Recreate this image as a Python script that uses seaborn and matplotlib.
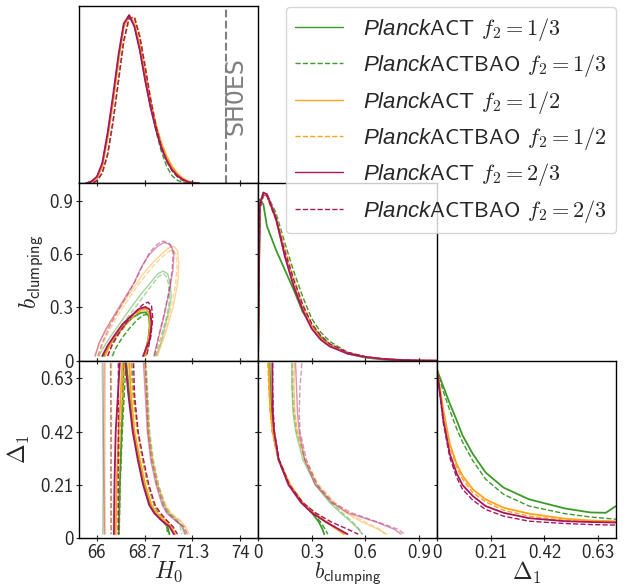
import matplotlib
matplotlib.use("Agg")
import matplotlib.pyplot as plt
import seaborn as sns

sns.set_style("ticks")
plt.rcParams['font.family'] = ['cmss10', 'DejaVu Sans']
plt.rcParams['mathtext.fontset'] = 'custom'
plt.rcParams['mathtext.rm'] = 'cmr10'
plt.rcParams['mathtext.it'] = 'cmmi10'
plt.rcParams['mathtext.sf'] = 'cmss10'
plt.rcParams['mathtext.bf'] = 'Liberation Sans:italic'  # used for the italic "Planck"
plt.rcParams['axes.unicode_minus'] = False

# series order: ACT 1/3, ACTBAO 1/3, ACT 1/2, ACTBAO 1/2, ACT 2/3, ACTBAO 2/3
labels = [r"$\mathbf{Planck}$ACT $f_2=1/3$", r"$\mathbf{Planck}$ACTBAO $f_2=1/3$",
          r"$\mathbf{Planck}$ACT $f_2=1/2$", r"$\mathbf{Planck}$ACTBAO $f_2=1/2$",
          r"$\mathbf{Planck}$ACT $f_2=2/3$", r"$\mathbf{Planck}$ACTBAO $f_2=2/3$"]
colors = ['#3c9a28', '#3c9a28', '#ffa31a', '#ffa31a', '#a8165f', '#a8165f']
styles = ['-', '--', '-', '--', '-', '--']
widths = [1.3, 1.0, 1.3, 1.0, 1.3, 1.0]

shoes_h0 = 73.2

# 1D posterior of H0
h0_grid = [65.4, 65.7, 66.0, 66.3, 66.6, 66.9, 67.2, 67.5, 67.8, 68.1, 68.4,
           68.7, 69.0, 69.3, 69.6, 69.9, 70.2, 70.5, 70.8, 71.1, 71.4, 71.7]
h0_pdf = [
    [0, 0.01, 0.035, 0.11, 0.29, 0.50, 0.74, 0.94, 1.0, 0.94, 0.80, 0.62, 0.46, 0.33, 0.22, 0.145, 0.09, 0.05, 0.025, 0.01, 0.003, 0],
    [0, 0, 0.015, 0.06, 0.17, 0.36, 0.60, 0.84, 0.98, 0.99, 0.87, 0.68, 0.48, 0.31, 0.19, 0.10, 0.045, 0.018, 0.005, 0, 0, 0],
    [0, 0.008, 0.03, 0.10, 0.27, 0.48, 0.72, 0.93, 1.0, 0.95, 0.82, 0.65, 0.49, 0.35, 0.24, 0.16, 0.10, 0.058, 0.03, 0.013, 0.004, 0],
    [0, 0, 0.015, 0.06, 0.17, 0.36, 0.60, 0.84, 0.98, 0.99, 0.88, 0.70, 0.51, 0.35, 0.23, 0.14, 0.08, 0.042, 0.02, 0.007, 0.002, 0],
    [0, 0.012, 0.04, 0.12, 0.30, 0.52, 0.76, 0.95, 1.0, 0.93, 0.79, 0.61, 0.45, 0.32, 0.21, 0.135, 0.08, 0.045, 0.022, 0.008, 0.002, 0],
    [0, 0, 0.016, 0.062, 0.175, 0.37, 0.61, 0.85, 0.985, 0.985, 0.87, 0.69, 0.50, 0.34, 0.22, 0.13, 0.075, 0.038, 0.017, 0.006, 0.001, 0],
]

# 1D posterior of b_clumping
b_grid = [0, 0.01, 0.03, 0.05, 0.1, 0.15, 0.2, 0.25, 0.3, 0.35, 0.4, 0.5, 0.6, 0.7, 0.8, 0.9, 1.0]
b_pdf = [
    [0, 0.96, 0.93, 0.80, 0.66, 0.54, 0.42, 0.29, 0.205, 0.14, 0.095, 0.042, 0.018, 0.007, 0.002, 0, 0],
    [0, 0.90, 0.98, 0.99, 0.88, 0.70, 0.53, 0.38, 0.25, 0.17, 0.115, 0.05, 0.022, 0.009, 0.003, 0, 0],
    [0, 0.92, 1.0, 0.98, 0.84, 0.63, 0.45, 0.31, 0.20, 0.13, 0.09, 0.045, 0.022, 0.01, 0.004, 0.001, 0],
    [0, 0.90, 0.99, 0.99, 0.86, 0.67, 0.49, 0.34, 0.22, 0.15, 0.10, 0.047, 0.022, 0.009, 0.003, 0, 0],
    [0, 0.93, 1.0, 0.99, 0.85, 0.62, 0.44, 0.30, 0.19, 0.125, 0.085, 0.042, 0.022, 0.01, 0.004, 0.001, 0],
    [0, 0.90, 0.99, 0.98, 0.84, 0.65, 0.48, 0.33, 0.22, 0.15, 0.10, 0.05, 0.024, 0.01, 0.004, 0.001, 0],
]

# 1D posterior of Delta_1
d_grid = [0, 0.025, 0.05, 0.077, 0.1, 0.14, 0.19, 0.26, 0.36, 0.5, 0.6, 0.66, 0.7]
d_pdf = [
    [1.0, 0.90, 0.80, 0.70, 0.61, 0.50, 0.39, 0.30, 0.23, 0.176, 0.152, 0.150, 0.19],
    [1.0, 0.87, 0.76, 0.65, 0.57, 0.46, 0.35, 0.26, 0.19, 0.145, 0.125, 0.117, 0.112],
    [1.0, 0.76, 0.56, 0.44, 0.37, 0.29, 0.23, 0.18, 0.145, 0.115, 0.104, 0.101, 0.099],
    [1.0, 0.74, 0.54, 0.42, 0.35, 0.27, 0.215, 0.165, 0.13, 0.105, 0.097, 0.095, 0.094],
    [1.0, 0.70, 0.50, 0.385, 0.315, 0.25, 0.19, 0.15, 0.118, 0.10, 0.095, 0.093, 0.092],
    [1.0, 0.68, 0.48, 0.36, 0.29, 0.225, 0.17, 0.13, 0.10, 0.086, 0.08, 0.078, 0.077],
]

# H0 - b_clumping contours (68% inner, 95% outer)
hb_in_h0 = [
    [66.40, 66.68, 67.05, 67.51, 67.98, 68.45, 68.72, 68.91, 68.95, 68.87, 68.63],
    [66.86, 67.05, 67.42, 67.80, 68.20, 68.55, 68.80, 68.95, 69.00, 68.92, 68.70],
    [66.45, 66.70, 67.05, 67.50, 67.95, 68.40, 68.72, 68.92, 68.98, 68.90, 68.66],
    [66.60, 66.85, 67.20, 67.65, 68.10, 68.55, 68.85, 69.02, 69.06, 68.98, 68.75],
    [66.30, 66.58, 66.96, 67.42, 67.89, 68.35, 68.72, 68.95, 69.06, 68.95, 68.58],
    [66.60, 66.85, 67.20, 67.65, 68.10, 68.55, 68.85, 69.05, 69.12, 69.02, 68.78],
]
hb_in_b = [
    [0.026, 0.082, 0.139, 0.195, 0.242, 0.270, 0.273, 0.25, 0.195, 0.12, 0.026],
    [0.026, 0.07, 0.13, 0.18, 0.225, 0.255, 0.262, 0.24, 0.19, 0.12, 0.026],
    [0.026, 0.085, 0.145, 0.205, 0.255, 0.285, 0.29, 0.27, 0.21, 0.13, 0.026],
    [0.026, 0.085, 0.145, 0.205, 0.255, 0.29, 0.298, 0.275, 0.21, 0.13, 0.026],
    [0.026, 0.082, 0.139, 0.204, 0.25, 0.292, 0.303, 0.288, 0.213, 0.12, 0.026],
    [0.026, 0.09, 0.15, 0.215, 0.27, 0.315, 0.33, 0.31, 0.24, 0.14, 0.026],
]
hb_out_h0 = [
    [66.12, 66.40, 66.86, 67.42, 67.98, 68.50, 69.00, 69.40, 69.70, 69.95, 70.10, 70.15, 70.00, 69.75, 69.55, 69.32],
    [66.30, 66.60, 67.05, 67.60, 68.15, 68.65, 69.10, 69.45, 69.72, 69.92, 70.02, 70.05, 69.90, 69.65, 69.45, 69.25],
    [65.93, 66.15, 66.50, 67.05, 67.60, 68.10, 68.60, 69.10, 69.60, 70.00, 70.31, 70.50, 70.58, 70.52, 70.25, 69.85, 69.38],
    [66.10, 66.35, 66.70, 67.20, 67.75, 68.25, 68.75, 69.20, 69.65, 70.00, 70.25, 70.42, 70.48, 70.40, 70.12, 69.75, 69.30],
    [65.89, 66.12, 66.49, 67.05, 67.61, 68.07, 68.45, 68.91, 69.38, 69.75, 70.12, 70.31, 70.25, 70.03, 69.75, 69.47, 69.19],
    [66.05, 66.30, 66.65, 67.15, 67.70, 68.15, 68.55, 68.95, 69.35, 69.70, 70.05, 70.25, 70.20, 70.00, 69.72, 69.45, 69.20],
]
hb_out_b = [
    [0.026, 0.08, 0.15, 0.23, 0.31, 0.38, 0.44, 0.49, 0.505, 0.49, 0.44, 0.36, 0.27, 0.17, 0.09, 0.026],
    [0.026, 0.08, 0.15, 0.23, 0.30, 0.37, 0.43, 0.475, 0.49, 0.47, 0.42, 0.34, 0.25, 0.16, 0.09, 0.026],
    [0.026, 0.10, 0.17, 0.26, 0.345, 0.42, 0.49, 0.55, 0.60, 0.635, 0.645, 0.62, 0.55, 0.44, 0.30, 0.16, 0.026],
    [0.026, 0.10, 0.17, 0.26, 0.345, 0.42, 0.485, 0.54, 0.585, 0.615, 0.625, 0.60, 0.53, 0.43, 0.29, 0.15, 0.026],
    [0.026, 0.10, 0.176, 0.27, 0.363, 0.438, 0.522, 0.597, 0.644, 0.667, 0.654, 0.607, 0.513, 0.382, 0.251, 0.139, 0.026],
    [0.026, 0.10, 0.18, 0.275, 0.37, 0.45, 0.535, 0.61, 0.655, 0.675, 0.66, 0.61, 0.51, 0.38, 0.25, 0.14, 0.026],
]

# H0 - Delta_1 contours: left and right edges
hd_left_d = [0.69, 0.42, 0.21, 0.015]
hd_in_left = [
    [67.50, 67.38, 67.28, 67.22], [67.62, 67.42, 67.30, 67.25],
    [67.42, 67.22, 67.10, 67.05], [67.55, 67.30, 67.20, 67.18],
    [67.28, 67.05, 66.98, 66.95], [67.20, 67.20, 67.19, 67.20],
]
hd_out_left = [
    [66.30, 66.33, 66.35, 66.33], [66.78, 66.80, 66.80, 66.82],
    [66.48, 66.46, 66.45, 66.48], [66.82, 66.82, 66.80, 66.80],
    [66.40, 66.38, 66.40, 66.42], [66.76, 66.78, 66.78, 66.78],
]
hd_right_d = [0.69, 0.57, 0.42, 0.31, 0.21, 0.13, 0.098, 0.07, 0.045, 0.015]
hd_in_right = [
    [67.65, 67.80, 68.05, 68.35, 68.65, 68.98, 69.25, 69.62, 69.95, 70.05],
    [67.95, 68.05, 68.30, 68.55, 68.85, 69.20, 69.45, 69.70, 69.90, 69.95],
    [67.80, 67.90, 68.10, 68.40, 68.70, 69.05, 69.35, 69.75, 70.15, 70.35],
    [67.90, 68.00, 68.25, 68.55, 68.85, 69.22, 69.50, 69.85, 70.20, 70.40],
    [67.60, 67.75, 68.00, 68.28, 68.58, 68.92, 69.20, 69.60, 70.05, 70.30],
    [68.05, 68.10, 68.30, 68.60, 68.90, 69.25, 69.55, 69.90, 70.25, 70.50],
]
hd_out_right = [
    [68.70, 68.80, 68.90, 69.10, 69.40, 69.75, 70.00, 70.50, 70.75, 70.90],
    [68.75, 68.85, 68.95, 69.15, 69.45, 69.80, 70.05, 70.45, 70.65, 70.75],
    [68.65, 68.75, 68.88, 69.08, 69.38, 69.80, 70.10, 70.60, 70.95, 71.15],
    [68.72, 68.80, 68.92, 69.12, 69.42, 69.85, 70.15, 70.65, 70.90, 71.05],
    [68.60, 68.70, 68.82, 69.00, 69.30, 69.65, 69.90, 70.35, 70.80, 70.95],
    [68.70, 68.78, 68.85, 69.05, 69.35, 69.70, 69.95, 70.40, 70.85, 71.05],
]

# b_clumping - Delta_1 contours
bd_d = [0.69, 0.6, 0.5, 0.42, 0.31, 0.21, 0.14, 0.1, 0.063, 0.035, 0.015]
bd_in_b = [
    [0.065, 0.068, 0.075, 0.085, 0.115, 0.175, 0.245, 0.30, 0.34, 0.36, 0.37],
    [0.058, 0.062, 0.07, 0.08, 0.112, 0.172, 0.245, 0.305, 0.35, 0.375, 0.39],
    [0.06, 0.063, 0.07, 0.082, 0.115, 0.18, 0.25, 0.31, 0.38, 0.44, 0.48],
    [0.055, 0.06, 0.068, 0.08, 0.113, 0.178, 0.25, 0.315, 0.39, 0.45, 0.49],
    [0.08, 0.08, 0.082, 0.09, 0.115, 0.17, 0.24, 0.30, 0.38, 0.45, 0.50],
    [0.082, 0.082, 0.085, 0.092, 0.118, 0.175, 0.25, 0.32, 0.41, 0.50, 0.56],
]
bd_out_b = [
    [0.19, 0.19, 0.195, 0.21, 0.25, 0.32, 0.40, 0.46, 0.52, 0.56, 0.585],
    [0.19, 0.19, 0.20, 0.215, 0.26, 0.33, 0.41, 0.47, 0.53, 0.565, 0.58],
    [0.205, 0.20, 0.205, 0.22, 0.26, 0.33, 0.42, 0.49, 0.58, 0.67, 0.72],
    [0.20, 0.20, 0.205, 0.22, 0.265, 0.34, 0.43, 0.50, 0.60, 0.68, 0.71],
    [0.21, 0.215, 0.22, 0.23, 0.26, 0.32, 0.41, 0.50, 0.66, 0.76, 0.80],
    [0.245, 0.235, 0.23, 0.235, 0.27, 0.33, 0.42, 0.52, 0.67, 0.78, 0.82],
]

h0_ticks = [66, 68.667, 71.333, 74]
h0_ticklabels = ["66", "68.7", "71.3", "74"]
b_ticks = [0, 0.3, 0.6, 0.9]
b_ticklabels = ["0", "0.3", "0.6", "0.9"]
d_ticks = [0, 0.21, 0.42, 0.63]
d_ticklabels = ["0", "0.21", "0.42", "0.63"]


def draw(ax, xs, ys, i, alpha=1.0, lw=None, label=None):
    sns.lineplot(x=xs, y=ys, ax=ax, color=colors[i], linestyle=styles[i],
                 lw=lw if lw else widths[i], alpha=alpha, sort=False,
                 estimator=None, label=label, legend=False)


fig, axes = plt.subplots(3, 3, figsize=(6.34, 5.86), dpi=100)
fig.subplots_adjust(left=79 / 634, right=616 / 634, bottom=48 / 586, top=580 / 586,
                    wspace=0, hspace=0)

n = len(labels)
for i in range(n):
    draw(axes[0, 0], h0_grid, h0_pdf[i], i, label=labels[i])
    draw(axes[1, 1], b_grid, b_pdf[i], i)
    draw(axes[2, 2], d_grid, d_pdf[i], i)
    # H0 - b
    draw(axes[1, 0], hb_out_h0[i], hb_out_b[i], i, alpha=0.45, lw=1.0)
    draw(axes[1, 0], hb_in_h0[i], hb_in_b[i], i)
    # H0 - Delta1
    draw(axes[2, 0], hd_out_left[i], hd_left_d, i, alpha=0.45, lw=1.0)
    draw(axes[2, 0], hd_out_right[i], hd_right_d, i, alpha=0.45, lw=1.0)
    draw(axes[2, 0], hd_in_left[i], hd_left_d, i)
    draw(axes[2, 0], hd_in_right[i], hd_right_d, i)
    # b - Delta1
    draw(axes[2, 1], bd_out_b[i], bd_d, i, alpha=0.45, lw=1.0)
    draw(axes[2, 1], bd_in_b[i], bd_d, i)

# SH0ES marker
axes[0, 0].axvline(shoes_h0, color='gray', ls='--', lw=1.5)
axes[0, 0].text(shoes_h0 + 0.55, 0.52, 'SH0ES', rotation=90, color='gray',
                ha='center', va='center', fontsize=17,
                family=['Liberation Sans Narrow', 'DejaVu Sans'])

for ax in [axes[0, 1], axes[0, 2], axes[1, 2]]:
    ax.set_visible(False)

xlims = [(65, 75), (0, 1.0), (0, 0.70)]
xticks = [(h0_ticks, h0_ticklabels), (b_ticks, b_ticklabels), (d_ticks, d_ticklabels)]
for r in range(3):
    for c in range(r + 1):
        ax = axes[r, c]
        ax.set_xlim(*xlims[c])
        ax.set_xticks(xticks[c][0])
        ax.set_xticklabels(xticks[c][1])
        for s in ax.spines.values():
            s.set_color('black')
            s.set_linewidth(1.0)
            s.set_visible(True)
        ax.set_xlabel('')
        ax.set_ylabel('')
        if r == c:
            ax.set_ylim(0, 1.055)
            ax.set_yticks([])
            ax.tick_params(axis='x', direction='inout', length=5, width=0.8,
                           top=False, labelbottom=(r == 2), labelsize=13.5, pad=1.5)
        else:
            ax.set_ylim(*xlims[r])
            ax.set_yticks(xticks[r][0])
            ax.set_yticklabels(xticks[r][1])
            ax.tick_params(direction='inout', length=5, width=0.8, top=True, right=True,
                           labelbottom=(r == 2), labelleft=(c == 0), labelsize=13.5, pad=1.5)

axes[1, 0].set_ylabel(r"$b_{\mathsf{clumping}}$", fontsize=17)
axes[1, 0].yaxis.set_label_coords(-0.19, 0.5)
axes[2, 0].set_ylabel(r"$\Delta_1$", fontsize=17)
axes[2, 0].yaxis.set_label_coords(-0.26, 0.5)
axes[2, 0].set_xlabel(r"$H_0$", fontsize=17)
axes[2, 1].set_xlabel(r"$b_{\mathsf{clumping}}$", fontsize=15.5)
axes[2, 2].set_xlabel(r"$\Delta_1$", fontsize=17)
for ax in axes[2]:
    ax.xaxis.set_label_coords(0.5, -0.125)

handles, labs = axes[0, 0].get_legend_handles_labels()
leg = fig.legend(handles, labs, loc='upper right', bbox_to_anchor=(616 / 634, 579 / 586),
                 borderaxespad=0, fontsize=16, handlelength=2.2, handletextpad=0.9,
                 labelspacing=0.42, frameon=True, fancybox=True, framealpha=0.8,
                 edgecolor='0.8')
for line in leg.get_lines():
    line.set_linewidth(1.0)

fig.savefig('out.png', dpi=100)
